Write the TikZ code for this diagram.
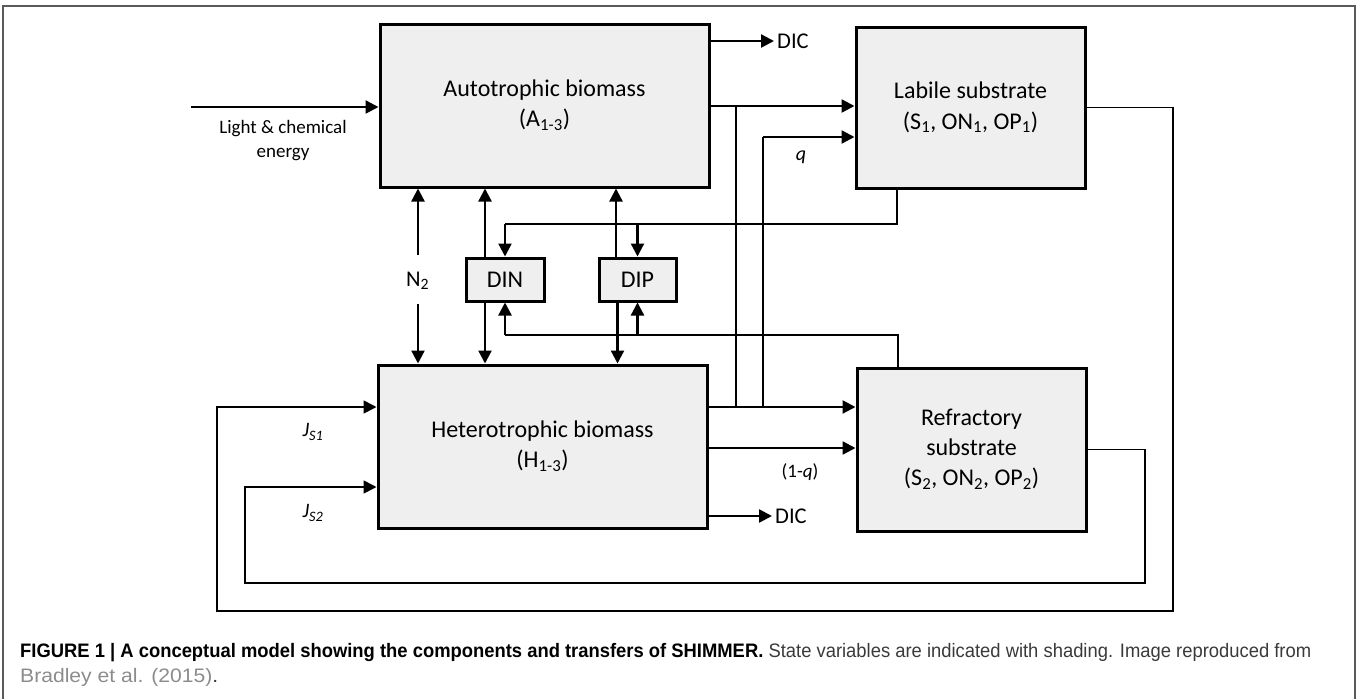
\documentclass[tikz,border=0pt]{standalone}
\usepackage{fontspec}
\usepackage{graphicx}
\setmainfont{Carlito}
\newfontfamily\capfont{Liberation Sans}
\usetikzlibrary{arrows.meta}
\definecolor{boxgray}{HTML}{EFEFEF}
\definecolor{framegray}{HTML}{5A5A5A}
\definecolor{captxt}{HTML}{3A3A3A}
\definecolor{linkgray}{HTML}{8C8C8C}
\newcommand\myboxfont{\fontsize{24}{30}\selectfont}
\newcommand\mylabfont{\fontsize{19}{24}\selectfont}
\newcommand\myjfont{\fontsize{20.5}{24}\selectfont}
\newcommand\mydicfont{\fontsize{22.5}{28}\selectfont}
\begin{document}
\begin{tikzpicture}[x=1pt,y=-1pt,
  box/.style={draw,line width=3pt,fill=boxgray,inner sep=0pt,align=center,font=\myboxfont},
  txt/.style={inner sep=0pt,align=center,font=\mydicfont},
  lab/.style={inner sep=0pt,align=center,font=\mylabfont},
  arr/.style={line width=2.3pt,-{Triangle[length=13pt,width=13pt]}},
  thinl/.style={line width=1.4pt,line join=miter},
  loopl/.style={line width=1.7pt,line join=miter,-{Triangle[length=13pt,width=13pt]}},
  frame/.style={line width=2pt,draw=framegray}]
\useasboundingbox (0,0) rectangle (1358,699);
\draw[frame] (3,699) -- (3,6) -- (1355,6) -- (1355,699);

% boxes
\node[box,minimum width=329pt,minimum height=163pt] (A) at (544.5,105.5) {Autotrophic biomass\\(A\textsubscript{1-3})};
\node[box,minimum width=229pt,minimum height=161pt] (L) at (970.5,107.5) {\raisebox{-4pt}{\begin{tabular}{@{}c@{}}Labile substrate\\[1pt](S\textsubscript{1}, ON\textsubscript{1}, OP\textsubscript{1})\end{tabular}}};
\node[box,minimum width=329pt,minimum height=163pt] (H) at (542.5,446.5) {Heterotrophic biomass\\(H\textsubscript{1-3})};
\node[box,minimum width=229pt,minimum height=163pt] (R) at (971.5,449.5) {\raisebox{-4pt}{\begin{tabular}{@{}c@{}}Refractory\\substrate\\(S\textsubscript{2}, ON\textsubscript{2}, OP\textsubscript{2})\end{tabular}}};
\node[box,minimum width=78pt,minimum height=43pt] (DIN) at (505,279.5) {DIN};
\node[box,minimum width=77pt,minimum height=43pt] (DIP) at (637.5,279.5) {DIP};

% light input
\coordinate (lin) at (191,107);
\draw[arr] (lin) -- (lin -| A.west);
\node[lab] (lce) at (283,141) {Light \& chemical\\energy};

% DIC outputs
\node[txt,anchor=west,inner sep=3pt] (dicA) at (774,41) {DIC};
\draw[arr] (A.east |- dicA.west) -- (dicA.west);
\node[txt,anchor=west,inner sep=3pt] (dicH) at (772,516) {DIC};
\draw[arr] (H.east |- dicH.west) -- (dicH.west);

% A -> L and H -> L/R
\coordinate (j1) at (736,106);
\coordinate (j1b) at (736,407);
\coordinate (j2) at (763,407);
\coordinate (q1) at (763,137);
\draw[arr] (A.east |- j1) -- (L.west |- j1);
\draw[arr] (H.east |- j1b) -- (R.west |- j1b);
\draw[thinl] (j1) -- (j1b);
\draw[thinl] (j2) -- (q1);
\draw[arr] (q1) -- (q1 -| L.west);
\node[lab,font=\fontsize{20}{24}\selectfont\itshape] (qlab) at (801,157) {q};
\coordinate (j3) at (736,448);
\draw[arr] (H.east |- j3) -- (R.west |- j3);
\node[lab] (oneq) at (800,472) {(1-\textit{q})};

% N2
\node[txt] (n2) at (417.5,281) {N\textsubscript{2}};
\coordinate (n2a) at (418,255);
\coordinate (n2b) at (418,304);
\draw[arr] (n2a) -- (A.south -| n2a);
\draw[arr] (n2b) -- (H.north -| n2b);

% DIN / DIP exchange
\coordinate (dn) at (485,0);
\coordinate (dp) at (616,0);
\coordinate (dq) at (617.5,0);
\draw[arr] (DIN.north -| dn) -- (A.south -| dn);
\draw[arr] (DIN.south -| dn) -- (H.north -| dn);
\draw[arr] (DIP.north -| dp) -- (A.south -| dp);
\draw[arr] (DIP.south -| dq) -- (H.north -| dq);

% feeds from substrates
\coordinate (lf) at (897,224);
\draw[thinl] (L.south -| lf) -- (lf) -- (lf -| DIN.north);
\draw[arr] (lf -| DIN.north) -- (DIN.north);
\draw[arr] (lf -| DIP.north) -- (DIP.north);
\coordinate (rf) at (898,335);
\draw[thinl] (R.north -| rf) -- (rf) -- (rf -| DIN.south);
\draw[arr] (rf -| DIN.south) -- (DIN.south);
\draw[arr] (rf -| DIP.south) -- (DIP.south);

% loops back to H
\coordinate (lo1) at (1173,611);
\coordinate (lo2) at (217,407);
\draw[loopl] (L.east) -- (L.east -| lo1) -- (lo1) -- (lo1 -| lo2) -- (lo2) -- (lo2 -| H.west);
\node[lab,font=\myjfont] (js1) at (313,432) {\textit{J}\textsubscript{\textit{S1}}};
\coordinate (ro1) at (1145,583);
\coordinate (ro2) at (245,487);
\draw[loopl] (R.east) -- (R.east -| ro1) -- (ro1) -- (ro1 -| ro2) -- (ro2) -- (ro2 -| H.west);
\node[lab,font=\myjfont] (js2) at (313,513) {\textit{J}\textsubscript{\textit{S2}}};

% caption
\node[anchor=base west,inner sep=0pt,font=\capfont\fontsize{19.5}{23}\selectfont] (cap1) at (20,657)
  {\resizebox{1291pt}{\height}{\textbf{FIGURE 1 | A conceptual model showing the components and transfers of SHIMMER.} \textcolor{captxt}{State variables are indicated with shading. Image reproduced from}}};
\node[anchor=base west,inner sep=0pt,font=\capfont\fontsize{19.5}{23}\selectfont] (cap2) at (20,682)
  {\resizebox{198pt}{\height}{\textcolor{linkgray}{Bradley et al. (2015)}\textcolor{captxt}{.}}};
\end{tikzpicture}
\end{document}
